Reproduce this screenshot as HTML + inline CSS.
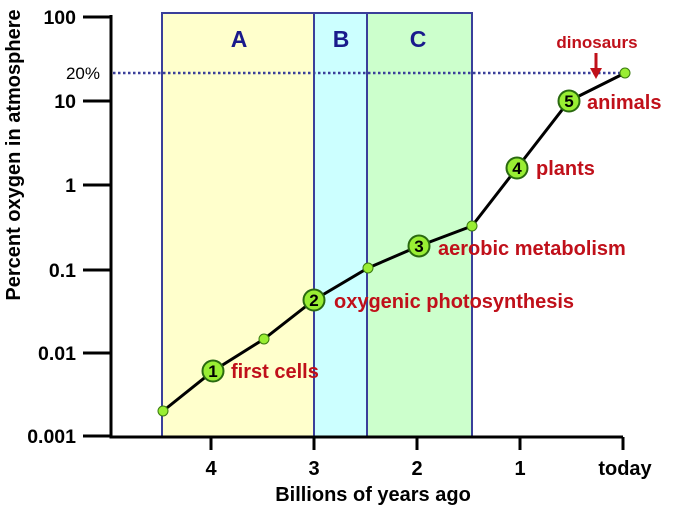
<!DOCTYPE html>
<html><head><meta charset="utf-8"><style>
html,body{margin:0;padding:0;background:#fff}
svg{display:block;font-family:"Liberation Sans",Arial,sans-serif;font-weight:bold}
</style></head><body>
<svg width="676" height="512" viewBox="0 0 676 512">
<rect x="162" y="13" width="152" height="424" fill="#ffffcc" stroke="#3a3f9a" stroke-width="2"/>
<rect x="314" y="13" width="53" height="424" fill="#ccffff" stroke="#3a3f9a" stroke-width="2"/>
<rect x="367" y="13" width="105" height="424" fill="#ccffcc" stroke="#3a3f9a" stroke-width="2"/>
<g fill="#1a1a8c" font-size="23" text-anchor="middle">
<text x="239" y="47">A</text><text x="341" y="47">B</text><text x="418" y="47">C</text></g>
<line x1="113" y1="73" x2="625" y2="73" stroke="#3a3f9a" stroke-width="2.5" stroke-dasharray="2.5,2.5"/>
<g stroke="#000" stroke-width="3" fill="none">
<polyline points="111,15 111,437 623,437"/>
<path d="M83 17H111M83 101H111M83 185H111M83 270H111M83 353H111M83 436H111M211 437V450M314 437V450M417 437V450M520 437V450M623 437V450"/>
</g>
<g font-size="19.5" text-anchor="end" fill="#000">
<text x="76" y="24">100</text><text x="76" y="108">10</text><text x="76" y="192">1</text>
<text x="76" y="277">0.1</text><text x="76" y="360">0.01</text><text x="76" y="443">0.001</text></g>
<text x="100" y="79" font-size="17" font-weight="normal" text-anchor="end">20%</text>
<g font-size="20" text-anchor="middle">
<text x="211" y="475">4</text><text x="314" y="475">3</text><text x="417" y="475">2</text><text x="520" y="475">1</text><text x="625" y="475">today</text>
<text x="373" y="501">Billions of years ago</text></g>
<text transform="translate(20,155) rotate(-90)" font-size="20" text-anchor="middle">Percent oxygen in atmosphere</text>
<polyline points="163,411 213,371 264,339 314,300 368,268 419,246 472,226 517,168 569,101 625,73" fill="none" stroke="#000" stroke-width="3"/>
<g fill="#99ee33" stroke="#3a7a10" stroke-width="1">
<circle cx="163" cy="411" r="5"/><circle cx="264" cy="339" r="5"/><circle cx="368" cy="268" r="5"/><circle cx="472" cy="226" r="5"/><circle cx="625" cy="73" r="5"/></g>
<g fill="#99ee33" stroke="#2a6a10" stroke-width="2">
<circle cx="213" cy="371" r="10.5"/><circle cx="314" cy="300" r="10.5"/><circle cx="419" cy="246" r="10.5"/><circle cx="517" cy="168" r="10.5"/><circle cx="569" cy="101" r="10.5"/></g>
<g font-size="17" text-anchor="middle" fill="#000">
<text x="213" y="377">1</text><text x="314" y="306">2</text><text x="419" y="252">3</text><text x="517" y="174">4</text><text x="569" y="107">5</text></g>
<g font-size="20" fill="#c0101a">
<text x="231" y="378">first cells</text>
<text x="334" y="308">oxygenic photosynthesis</text>
<text x="438" y="255">aerobic metabolism</text>
<text x="536" y="175">plants</text>
<text x="587" y="109">animals</text>
<text x="597" y="48" font-size="17" text-anchor="middle">dinosaurs</text></g>
<line x1="596" y1="53" x2="596" y2="70" stroke="#c0101a" stroke-width="3"/>
<polygon points="590,68 602,68 596,79" fill="#c0101a"/>
</svg>
</body></html>
